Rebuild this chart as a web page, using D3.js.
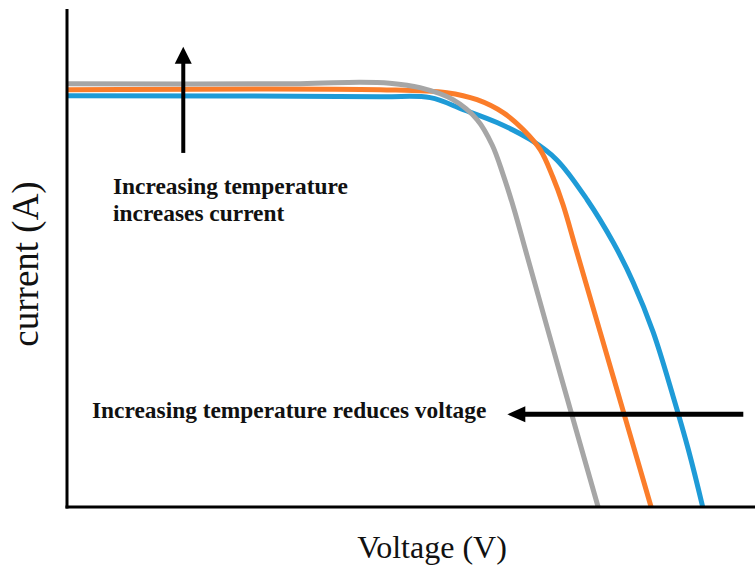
<!DOCTYPE html>
<html>
<head>
<meta charset="utf-8">
<script src="https://cdn.jsdelivr.net/npm/d3@7"></script>
<style>
  body { margin: 0; background: #fff; }
  svg { display: block; }
  .note { font-family: "Liberation Serif", "Times New Roman", serif; font-weight: bold; font-size: 23.4px; fill: #111; }
  .axtitle { font-family: "Liberation Serif", "Times New Roman", serif; fill: #111; }
</style>
</head>
<body>
<div id="graf"></div>
<script>
// datos (unidades arbitrarias 0-100)
const grayV = [0, 33.9, 42.6, 46.9, 51.3, 56.1, 59.6, 61.8, 63.4, 65.0, 66.7, 71.9, 77.2]
const grayI = [85.0, 85.0, 85.3, 85.1, 84.2, 81.8, 77.8, 72.7, 66.7, 59.7, 51.3, 25.7, 0]

const orangeV = [0, 45.5, 55.2, 59.6, 63.4, 66.3, 68.8, 70.6, 72.1, 74.0, 79.4, 84.9]
const orangeI = [83.8, 83.8, 83.2, 81.8, 79.2, 75.8, 71.7, 66.3, 60.7, 51.7, 26.1, 0]

const blueV = [0, 45.5, 52.8, 57.6, 62.5, 67.3, 71.2, 75.6, 79.4, 82.3, 85.2, 88.1, 90.3, 92.4]
const blueI = [82.6, 82.4, 82.2, 79.8, 77.2, 73.8, 69.7, 61.7, 53.1, 45.1, 35.1, 22.2, 11.6, 0]

// orden de dibujo: azul abajo, gris arriba
const series = [
  { name: 'blue', color: '#1e9bd7', v: blueV, i: blueI },
  { name: 'orange', color: '#fb7d2a', v: orangeV, i: orangeI },
  { name: 'gray', color: '#a6a6a6', v: grayV, i: grayI }
]

const ancho_total = 755
const alto_total = 568
const margins = { top: 9, left: 67, right: 0, bottom: 60 }

const svg = d3.select('#graf').append('svg')
  .attr('width', ancho_total)
  .attr('height', alto_total)

const x = d3.scaleLinear().domain([0, 100]).range([margins.left, ancho_total - margins.right])
const y = d3.scaleLinear().domain([0, 100]).range([alto_total - margins.bottom - 1, margins.top])

// curvas
const line = d3.line()
  .x(d => x(d[0]))
  .y(d => y(d[1]))
  .curve(d3.curveCatmullRom.alpha(0.5))

series.forEach(s => {
  svg.append('path')
    .datum(s.v.map((v, k) => [v, s.i[k]]))
    .attr('d', line)
    .attr('fill', 'none')
    .attr('stroke', s.color)
    .attr('stroke-width', 5)
})

// ejes (solo las lineas)
svg.append('line')
  .attr('x1', x(0)).attr('x2', x(0))
  .attr('y1', margins.top).attr('y2', y(0) + 1.5)
  .attr('stroke', '#000').attr('stroke-width', 3)
svg.append('line')
  .attr('x1', x(0) - 1.5).attr('x2', ancho_total)
  .attr('y1', y(0)).attr('y2', y(0))
  .attr('stroke', '#000').attr('stroke-width', 3)

// flechas
function arrow(x1, y1, x2, y2, w, head, hw) {
  const ang = Math.atan2(y2 - y1, x2 - x1)
  const bx = x2 - Math.cos(ang) * head, by = y2 - Math.sin(ang) * head
  svg.append('line')
    .attr('x1', x1).attr('y1', y1)
    .attr('x2', bx + Math.cos(ang) * 2).attr('y2', by + Math.sin(ang) * 2)
    .attr('stroke', '#000').attr('stroke-width', w)
  const px = -Math.sin(ang) * hw, py = Math.cos(ang) * hw
  svg.append('path')
    .attr('d', `M${x2},${y2}L${bx + px},${by + py}L${bx - px},${by - py}Z`)
    .attr('fill', '#000')
}

arrow(x(16.9), y(71.1), x(16.9), y(92.4), 4, 17, 8.5)
arrow(x(98.3), y(18.6), x(64.0), y(18.6), 5, 18, 8)

// textos
const t1 = svg.append('text').attr('class', 'note').attr('x', 113).attr('y', 194)
t1.append('tspan').attr('x', 113).text('Increasing temperature')
t1.append('tspan').attr('x', 113).attr('dy', 27).text('increases current')

svg.append('text').attr('class', 'note')
  .attr('x', 92).attr('y', 418)
  .text('Increasing temperature reduces voltage')

svg.append('text').attr('class', 'axtitle')
  .attr('x', 432).attr('y', 558)
  .attr('text-anchor', 'middle')
  .attr('font-size', '32px')
  .text('Voltage (V)')

svg.append('text').attr('class', 'axtitle')
  .attr('transform', 'translate(38, 264) rotate(-90)')
  .attr('text-anchor', 'middle')
  .attr('font-size', '37px')
  .text('current (A)')
</script>
</body>
</html>
